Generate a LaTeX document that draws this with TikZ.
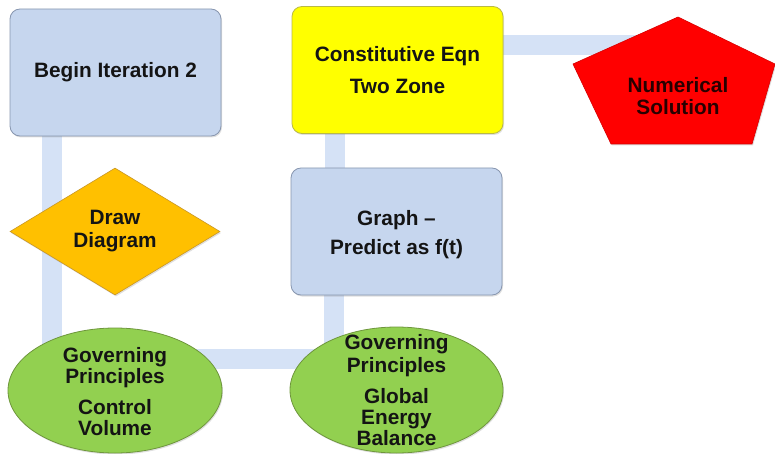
\documentclass[tikz,border=0pt]{standalone}
\usepackage{fontspec}
\setmainfont{Liberation Sans}
\usetikzlibrary{shapes.geometric,backgrounds,shadows}
\definecolor{boxblue}{RGB}{198,214,238}
\definecolor{boxedge}{RGB}{135,150,175}
\definecolor{yel}{RGB}{255,255,0}
\definecolor{yeledge}{RGB}{185,185,70}
\definecolor{org}{RGB}{255,192,0}
\definecolor{orgedge}{RGB}{200,150,40}
\definecolor{grn}{RGB}{146,208,80}
\definecolor{grnedge}{RGB}{110,150,60}
\definecolor{rd}{RGB}{255,0,0}
\definecolor{rdedge}{RGB}{215,0,0}
\definecolor{connc}{RGB}{213,226,246}
\definecolor{txt}{RGB}{20,20,20}
\begin{document}
\begin{tikzpicture}[x=1pt,y=-1pt,
  every node/.style={font=\fontsize{20.8}{21}\selectfont\bfseries, align=center, inner sep=0pt, text=txt},
  shad/.style={drop shadow={opacity=0.25, shadow xshift=1pt, shadow yshift=-1.5pt}},
  rbox/.style={draw=boxedge, fill=boxblue, line width=0.8pt, rounded corners=10pt, minimum width=211pt, minimum height=127pt, shad},
  ybox/.style={rbox, draw=yeledge, fill=yel},
  dia/.style={diamond, draw=orgedge, fill=org, line width=0.6pt, minimum width=210pt, minimum height=127pt, shad},
  ell/.style={ellipse, draw=grnedge, fill=grn, line width=0.8pt, shad},
  conn/.style={draw=connc, line width=20pt}]
\useasboundingbox (0,0) rectangle (775,454);

\node[rbox] (begin) at (115.5,72.5) {Begin Iteration 2};
\node[ybox] (const) at (397.5,70) {Constitutive Eqn\\[11pt]Two Zone};
\node[rbox] (graph) at (396.5,231.5) {};
\node (graphtxt) at (396.5,234.5) {Graph --\\[8pt]Predict as f(t)};
\node[dia] (draw) at (115,231.5) {Draw\\[2pt]Diagram};
\node[ell, minimum width=214pt, minimum height=125pt] (ell1) at (115,390.5) {};
\node (ell1txt) at (115,391.5) {Governing\\Principles\\[10pt]Control\\Volume};
\node[ell, minimum width=213pt, minimum height=126pt] (ell2) at (396.5,390) {};
\node (ell2txt) at (396.5,390.5) {Governing\\[2pt]Principles\\[10pt]Global\\Energy\\Balance};

\coordinate (p1) at (678,17);
\coordinate (p2) at (775,64);
\coordinate (p3) at (752,144);
\coordinate (p4) at (611,144);
\coordinate (p5) at (573,64);
\draw[fill=rd, draw=rdedge, line width=0.6pt, shad] (p1) -- (p2) -- (p3) -- (p4) -- (p5) -- cycle;
\node[text={rgb,255:red,40;green,0;blue,0}] (pent) at (678,96) {Numerical\\[1pt]Solution};

\begin{scope}[on background layer]
  \draw[conn] ([xshift=42pt]begin.south west) -- ([xshift=42pt]begin.south west |- ell1.center);
  \draw[conn] ([yshift=32pt]ell1.center) -- ([yshift=32pt]ell1.center -| ell2.center);
  \draw[conn] ([xshift=43pt]graph.south west) -- ([xshift=43pt]graph.south west |- ell2.center);
  \draw[conn] ([xshift=43pt]const.south west) -- ([xshift=43pt]const.south west |- graph.center);
  \draw[conn] ([yshift=25pt]const.east) -- ([yshift=25pt]const.east -| pent.center);
\end{scope}
\end{tikzpicture}
\end{document}
